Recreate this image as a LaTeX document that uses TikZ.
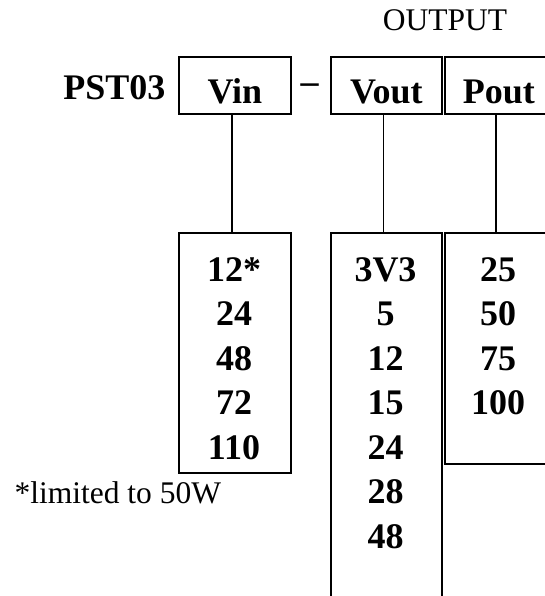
\documentclass[tikz,border=0pt]{standalone}
\usepackage{fontspec}
\setmainfont{Liberation Serif}
\begin{document}
\begin{tikzpicture}[
  x=1pt, y=-1pt,
  line/.style={draw, line width=1.7pt},
  field/.style={line, rectangle, inner sep=0pt, anchor=north west,
                font=\fontsize{36}{43}\selectfont\bfseries,
                text height=47pt, text depth=10pt},
  column/.style={line, rectangle, inner sep=0pt, anchor=north west},
  value/.style={anchor=base, font=\fontsize{36}{43}\selectfont\bfseries},
  note/.style={font=\fontsize{31.5}{38}\selectfont}
]
\useasboundingbox (0,0) rectangle (545,596);
\clip (0,0) rectangle (545,596);

% header row
\node[field, minimum width=112pt] (vin) at (178,56) {Vin};
\node[field, minimum width=111pt] (vout) at (330,56) {Vout};
\node[field, minimum width=108pt] (pout) at (444,56) {Pout};
\node[value, anchor=base east] (model) at (169,100) {PST03};
\node[value] (dash) at (309.5,94) {--};
\node[note, anchor=base] (output) at (445,31) {OUTPUT};

% option columns
\node[column, minimum width=112pt, minimum height=240pt] (vin-opt) at (178,232) {};
\node[column, minimum width=111pt, minimum height=400pt] (vout-opt) at (330,232) {};
\node[column, minimum width=108pt, minimum height=231pt] (pout-opt) at (444,232) {};

% header -> column
\foreach \n in {vin,vout,pout}
  \draw[line] ([xshift=-3pt]\n.south) -- ([xshift=-3pt]\n-opt.north);

% values in each column
\foreach \v [count=\i from 0] in {12*,24,48,72,110}
  \node[value] (vin\i) at (234,281+44.5*\i) {\v};
\foreach \v [count=\i from 0] in {3V3,5,12,15,24,28,48}
  \node[value] (vout\i) at (385.5,281+44.5*\i) {\v};
\foreach \v [count=\i from 0] in {25,50,75,100}
  \node[value] (pout\i) at (498,281+44.5*\i) {\v};

% footnote
\node[note, anchor=base west] (limit) at (11,503) {*limited to 50W};
\end{tikzpicture}
\end{document}
